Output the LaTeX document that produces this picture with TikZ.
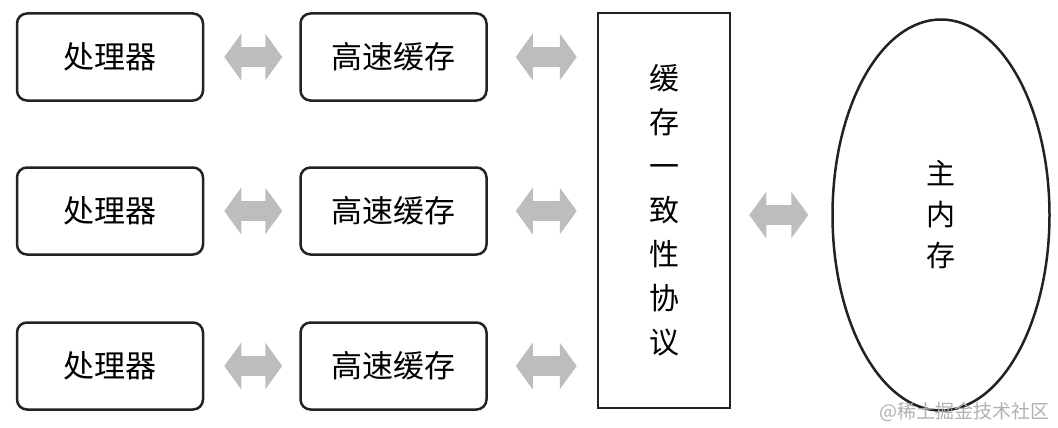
\documentclass[tikz,border=0pt]{standalone}
\usepackage{fontspec}
\newfontfamily\cjk{Noto Sans CJK SC}
\usetikzlibrary{shapes.geometric, arrows.meta, positioning}
\definecolor{BoxBlack}{HTML}{222222}
\definecolor{ArrowGray}{HTML}{BDBDBD}
\definecolor{MarkGray}{HTML}{B0B0B0}
\tikzset{
    % Box styles
    cpu/.style={
        rectangle,
        rounded corners=10pt,
        draw=BoxBlack,
        fill=white,
        line width=2.5pt,
        minimum width=186pt,
        minimum height=87pt,
        align=center,
        font=\cjk\fontsize{31}{31}\selectfont
    },
    cache/.style={
        cpu
    },
    protocol/.style={
        rectangle,
        draw=BoxBlack,
        fill=white,
        line width=2.5pt,
        minimum width=132pt,
        minimum height=395pt,
        align=center,
        font=\cjk\fontsize{30}{44}\selectfont
    },
    memory/.style={
        ellipse,
        draw=BoxBlack,
        fill=white,
        line width=2.5pt,
        minimum width=217pt,
        minimum height=391pt,
        inner sep=0pt,
        align=center,
        font=\cjk\fontsize{29}{41}\selectfont
    },
    % Arrow style - fat grey double arrow
    fatarrow/.style={
        {Triangle[length=17pt,width=46pt]}-{Triangle[length=17pt,width=46pt]},
        line width=20pt,
        draw=ArrowGray
    }
}
\begin{document}
\begin{tikzpicture}[x=1pt, y=-1pt]
    \useasboundingbox (0,0) rectangle (1058,428);
    % Processors and caches
    \foreach \i/\y in {1/57, 2/211, 3/366} {
        \node[cpu] (p\i) at (110,\y) {处理器};
        \node[cache] (c\i) at (393.5,\y) {高速缓存};
    }
    \node[protocol] (proto) at (664,210.5) {缓\\存\\一\\致\\性\\协\\议};
    \node[memory] (mem) at (941,215) {主\\内\\存};

    % Connectors
    \foreach \i in {1,2,3} {
        \draw[fatarrow, shorten <=20pt, shorten >=17pt] (p\i.east) -- (c\i.west);
        \draw[fatarrow, shorten <=28pt, shorten >=20pt] (c\i.east) -- (c\i.east -| proto.west);
    }
    \draw[fatarrow, shorten <=18pt, shorten >=23pt] (proto.east |- mem.west) -- (mem.west);

    % Watermark
    \node[font=\cjk\fontsize{19}{19}\selectfont, text=MarkGray, anchor=east, inner sep=0pt] (mark) at (1050,412) {@稀土掘金技术社区};
\end{tikzpicture}
\end{document}
